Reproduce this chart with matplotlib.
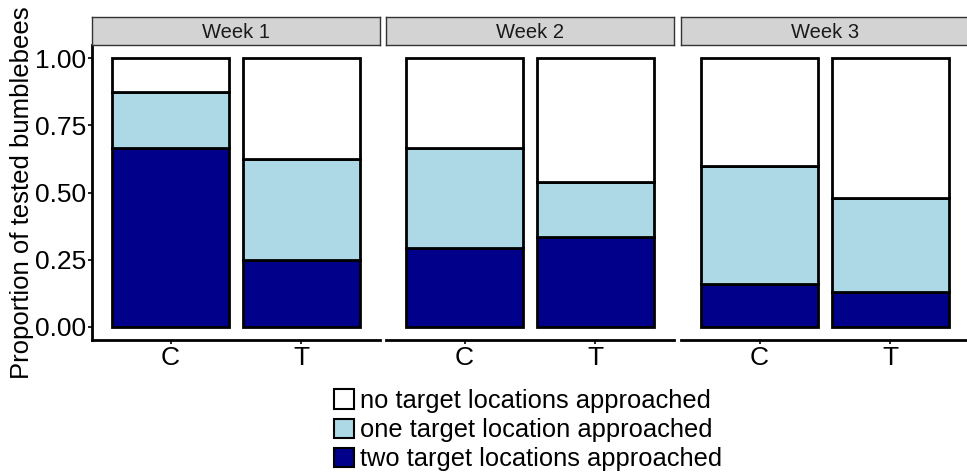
import matplotlib
matplotlib.use("Agg")
import matplotlib.pyplot as plt
from matplotlib.patches import Patch, Rectangle
import numpy as np

plt.rcParams['font.family'] = ['Liberation Sans', 'DejaVu Sans']

weeks = ["Week 1", "Week 2", "Week 3"]
groups = ["C", "T"]
categories = ["two target locations approached", "one target location approached", "no target locations approached"]
colors = ["#00008B", "#ADD8E6", "#FFFFFF"]
# proportions per week: [C, T] for each category (bottom -> top)
two_vals = [[0.667, 0.25], [0.292, 0.333], [0.16, 0.13]]
one_vals = [[0.208, 0.375], [0.375, 0.208], [0.44, 0.35]]
none_vals = [[0.125, 0.375], [0.333, 0.459], [0.40, 0.52]]
yticks = [0.0, 0.25, 0.5, 0.75, 1.0]
ytick_labels = ["0.00", "0.25", "0.50", "0.75", "1.00"]

W, H = 967, 475
fig = plt.figure(figsize=(W / 100, H / 100), dpi=100)

panel_left = [92, 386, 681]
panel_w = 288
top_px, bot_px = 45, 340
strip_top = 17

for i, wk in enumerate(weeks):
    l = panel_left[i]
    ax = fig.add_axes([l / W, 1 - bot_px / H, panel_w / W, (bot_px - top_px) / H])
    x = np.arange(1, 3)
    bottom = np.zeros(2)
    for vals, col in zip([two_vals, one_vals, none_vals], colors):
        v = np.array(vals[i])
        ax.bar(x, v, width=0.9, bottom=bottom, color=col, edgecolor="black", linewidth=2.0)
        bottom += v
    ax.set_xlim(0.4, 2.6)
    ax.set_ylim(-0.05, 1.05)
    ax.set_xticks(x)
    ax.set_xticklabels(groups, fontsize=19)
    for s in ["top", "right"]:
        ax.spines[s].set_visible(False)
    ax.spines["bottom"].set_linewidth(2.0)
    ax.tick_params(axis="x", length=3, width=1.2, pad=1)
    if i == 0:
        ax.set_yticks(yticks)
        ax.set_yticklabels(ytick_labels, fontsize=19)
        ax.spines["left"].set_linewidth(2.0)
        ax.tick_params(axis="y", length=3, width=1.2, pad=1)
        ax.set_ylabel("Proportion of tested bumblebees", fontsize=18.5, labelpad=1)
    else:
        ax.spines["left"].set_visible(False)
        ax.set_yticks([])
    # strip
    sax = fig.add_axes([l / W, 1 - top_px / H, panel_w / W, (top_px - strip_top) / H])
    sax.set_xticks([]); sax.set_yticks([])
    sax.set_facecolor("#D3D3D3")
    for s in sax.spines.values():
        s.set_color("#333333")
        s.set_linewidth(1.0)
    sax.text(0.5, 0.45, wk, ha="center", va="center", fontsize=14.5, color="#1A1A1A", transform=sax.transAxes)

handles = [Patch(facecolor=c, edgecolor="black", linewidth=1.5, label=lab)
           for c, lab in zip(colors[::-1], categories[::-1])]
fig.legend(handles=handles, loc="upper left", bbox_to_anchor=(334 / W, 1 - 389 / H),
           frameon=False, fontsize=18.4, handlelength=0.78, handleheight=0.78,
           handletextpad=0.22, labelspacing=0.2, borderpad=0, borderaxespad=0)

fig.savefig("out.png", dpi=100)
